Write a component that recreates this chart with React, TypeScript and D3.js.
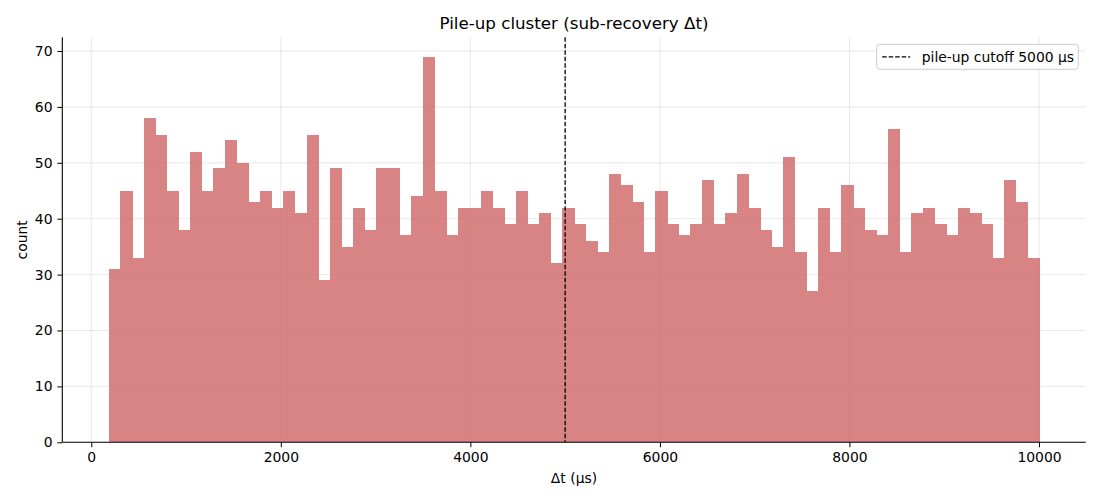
import { useRef, useEffect } from 'react';
import * as d3 from 'd3';

// histogram counts, 80 equal bins between binStart and binEnd (µs)
const counts = [
  31, 45, 33, 58, 55, 45, 38, 52, 45, 49,
  54, 50, 43, 45, 42, 45, 41, 55, 29, 49,
  35, 42, 38, 49, 49, 37, 44, 69, 45, 37,
  42, 42, 45, 42, 39, 45, 39, 41, 32, 42,
  39, 36, 34, 48, 46, 43, 34, 45, 39, 37,
  39, 47, 39, 41, 48, 42, 38, 35, 51, 34,
  27, 42, 34, 46, 42, 38, 37, 56, 34, 41,
  42, 39, 37, 42, 41, 39, 33, 47, 43, 33,
];
const binStart = 185;
const binEnd = 10002;
const cutoff = 5000;
const xTicks = [0, 2000, 4000, 6000, 8000, 10000];
const yTicks = [0, 10, 20, 30, 40, 50, 60, 70];

const W = 1100;
const H = 500;
const margin = { top: 37.3, right: 14.3, bottom: 57.7, left: 62.3 };
const FONT = 'DejaVu Sans, sans-serif';

const App = () => {
  const xAxisRef = useRef<SVGGElement>(null);
  const yAxisRef = useRef<SVGGElement>(null);

  const pad = (binEnd - binStart) * 0.05;
  const x = d3.scaleLinear()
    .domain([binStart - pad, binEnd + pad])
    .range([margin.left, W - margin.right]);
  const y = d3.scaleLinear()
    .domain([0, (d3.max(counts) as number) * 1.05])
    .range([H - margin.bottom, margin.top]);

  const binW = (binEnd - binStart) / counts.length;
  const bins = counts.map((c, i) => ({ x0: binStart + i * binW, x1: binStart + (i + 1) * binW, c }));

  useEffect(() => {
    const gx = d3.select(xAxisRef.current);
    gx.selectAll('*').remove();
    gx.call(d3.axisBottom(x).tickValues(xTicks).tickSize(4.9).tickPadding(4.9).tickFormat(d3.format('d')));
    gx.select('.domain').attr('stroke', '#000').attr('stroke-width', 1.1)
      .attr('d', `M${margin.left},0H${W - margin.right}`);
    gx.selectAll('text').attr('font-family', FONT).attr('font-size', 13.9).attr('fill', '#000');

    const gy = d3.select(yAxisRef.current);
    gy.selectAll('*').remove();
    gy.call(d3.axisLeft(y).tickValues(yTicks).tickSize(4.9).tickPadding(4.9));
    gy.select('.domain').attr('stroke', '#000').attr('stroke-width', 1.1)
      .attr('d', `M0,${H - margin.bottom}V${margin.top}`);
    gy.selectAll('text').attr('font-family', FONT).attr('font-size', 13.9).attr('fill', '#000');
  }, []);

  return (
    <>
      <style>{'body{margin:0}'}</style>
      <svg width={W} height={H} style={{ display: 'block' }}>
        <rect width={W} height={H} fill="#fff" />
        {/* grid */}
        <g stroke="#b0b0b0" strokeOpacity={0.35} strokeWidth={0.8}>
          {xTicks.map(t => (
            <line key={'gx' + t} x1={x(t)} x2={x(t)} y1={margin.top} y2={H - margin.bottom} />
          ))}
          {yTicks.map(t => (
            <line key={'gy' + t} x1={margin.left} x2={W - margin.right} y1={y(t)} y2={y(t)} />
          ))}
        </g>
        {/* bars: group opacity so adjacent bars don't leave seams */}
        <g fill="#cd5c5c" opacity={0.75} shapeRendering="crispEdges">
          {bins.map((b, i) => (
            <rect key={i} x={x(b.x0)} y={y(b.c)} width={x(b.x1) - x(b.x0) + 0.5} height={y(0) - y(b.c)} />
          ))}
        </g>
        {/* cutoff line */}
        <line x1={x(cutoff)} x2={x(cutoff)} y1={margin.top} y2={H - margin.bottom}
          stroke="#000" strokeWidth={1.3} strokeDasharray="4.5,2" />
        <g ref={xAxisRef} transform={`translate(0,${H - margin.bottom})`} />
        <g ref={yAxisRef} transform={`translate(${margin.left},0)`} />
        {/* titles */}
        <text x={(margin.left + W - margin.right) / 2} y={29} textAnchor="middle"
          fontFamily={FONT} fontSize={16.7}>Pile-up cluster (sub-recovery Δt)</text>
        <text x={(margin.left + W - margin.right) / 2} y={483} textAnchor="middle"
          fontFamily={FONT} fontSize={13.9}>Δt (µs)</text>
        <text transform={`translate(22,${(margin.top + H - margin.bottom) / 2}) rotate(-90)`}
          textAnchor="middle" dominantBaseline="central" fontFamily={FONT} fontSize={13.9}>count</text>
        {/* legend */}
        <g transform="translate(876.7,44.3)">
          <rect width={201.6} height={25} rx={3} fill="#fff" fillOpacity={0.8} stroke="#cccccc" strokeWidth={1} />
          <line x1={5.5} x2={33.5} y1={12.5} y2={12.5} stroke="#000" strokeWidth={1.3} strokeDasharray="4.5,2" />
          <text x={45} y={17.5} fontFamily={FONT} fontSize={13.9}>pile-up cutoff 5000 µs</text>
        </g>
      </svg>
    </>
  );
};

export default App;
